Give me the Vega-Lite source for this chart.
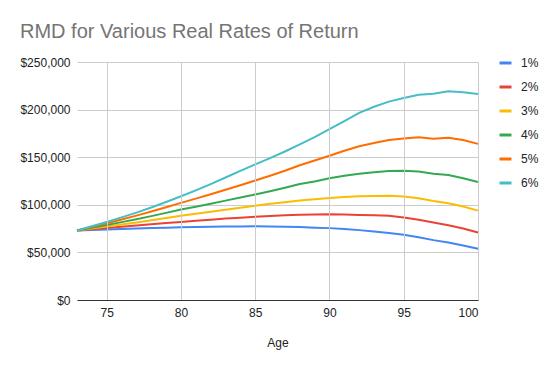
{
  "$schema": "https://vega.github.io/schema/vega-lite/v6.json",
  "width": 401,
  "height": 238,
  "autosize": {"type": "none"},
  "padding": {"left": 77, "top": 62, "right": 77, "bottom": 71},
  "background": "white",
  "config": {
    "font": "Liberation Sans",
    "view": {"stroke": null}
  },
  "title": {
    "text": "RMD for Various Real Rates of Return",
    "anchor": "start",
    "frame": "group",
    "dx": -57,
    "offset": 14,
    "fontSize": 20,
    "fontWeight": "normal",
    "font": "Liberation Sans",
    "color": "#757575"
  },
  "data": {
    "values": [
      {"age": 73, "1%": 73000, "2%": 73000, "3%": 73000, "4%": 73000, "5%": 73000, "6%": 73000},
      {"age": 74, "1%": 73500, "2%": 74300, "3%": 75100, "4%": 75900, "5%": 76800, "6%": 77500},
      {"age": 75, "1%": 74000, "2%": 75600, "3%": 77200, "4%": 78800, "5%": 80600, "6%": 82000},
      {"age": 76, "1%": 74500, "2%": 76900, "3%": 79300, "4%": 81800, "5%": 84500, "6%": 86800},
      {"age": 77, "1%": 75000, "2%": 78200, "3%": 81500, "4%": 84900, "5%": 88600, "6%": 91800},
      {"age": 78, "1%": 75500, "2%": 79500, "3%": 83800, "4%": 88100, "5%": 92900, "6%": 97200},
      {"age": 79, "1%": 75900, "2%": 80800, "3%": 86100, "4%": 91500, "5%": 97400, "6%": 103000},
      {"age": 80, "1%": 76300, "2%": 82000, "3%": 88500, "4%": 95000, "5%": 102000, "6%": 109000},
      {"age": 81, "1%": 76600, "2%": 83200, "3%": 90500, "4%": 98000, "5%": 106500, "6%": 115200},
      {"age": 82, "1%": 76900, "2%": 84400, "3%": 92600, "4%": 101200, "5%": 111000, "6%": 121800},
      {"age": 83, "1%": 77100, "2%": 85500, "3%": 94700, "4%": 104400, "5%": 115800, "6%": 128700},
      {"age": 84, "1%": 77300, "2%": 86500, "3%": 96800, "4%": 107600, "5%": 120600, "6%": 135700},
      {"age": 85, "1%": 77400, "2%": 87500, "3%": 99000, "4%": 110800, "5%": 125500, "6%": 142500},
      {"age": 86, "1%": 77300, "2%": 88300, "3%": 101000, "4%": 114300, "5%": 130500, "6%": 149000},
      {"age": 87, "1%": 77000, "2%": 89000, "3%": 102800, "4%": 118000, "5%": 135800, "6%": 156000},
      {"age": 88, "1%": 76600, "2%": 89600, "3%": 104500, "4%": 121900, "5%": 141500, "6%": 163500},
      {"age": 89, "1%": 76000, "2%": 89800, "3%": 105800, "4%": 124500, "5%": 146500, "6%": 171000},
      {"age": 90, "1%": 75500, "2%": 90100, "3%": 107100, "4%": 127800, "5%": 151500, "6%": 179400},
      {"age": 91, "1%": 74500, "2%": 89900, "3%": 108200, "4%": 130600, "5%": 156800, "6%": 188000},
      {"age": 92, "1%": 73400, "2%": 89300, "3%": 108900, "4%": 132700, "5%": 161500, "6%": 196500},
      {"age": 93, "1%": 72000, "2%": 88900, "3%": 109300, "4%": 134200, "5%": 165000, "6%": 203000},
      {"age": 94, "1%": 70400, "2%": 88500, "3%": 109600, "4%": 135500, "5%": 168000, "6%": 208400},
      {"age": 95, "1%": 68500, "2%": 86600, "3%": 108600, "4%": 135800, "5%": 169600, "6%": 212200},
      {"age": 96, "1%": 66000, "2%": 84200, "3%": 106800, "4%": 135000, "5%": 171000, "6%": 215700},
      {"age": 97, "1%": 62900, "2%": 81400, "3%": 104000, "4%": 132700, "5%": 169500, "6%": 216700},
      {"age": 98, "1%": 60400, "2%": 78600, "3%": 101700, "4%": 131400, "5%": 170300, "6%": 219200},
      {"age": 99, "1%": 57300, "2%": 75100, "3%": 98200, "4%": 127900, "5%": 168000, "6%": 218100},
      {"age": 100, "1%": 53800, "2%": 70900, "3%": 93900, "4%": 124000, "5%": 164000, "6%": 216400}
    ]
  },
  "transform": [
    {"fold": ["1%", "2%", "3%", "4%", "5%", "6%"], "as": ["rate", "rmd"]}
  ],
  "mark": {"type": "line", "strokeWidth": 2, "interpolate": "linear"},
  "encoding": {
    "x": {
      "field": "age",
      "type": "quantitative",
      "scale": {"domain": [73, 100], "nice": false, "zero": false},
      "axis": {
        "values": [75, 80, 85, 90, 95, 100],
        "title": "Age",
        "grid": true,
        "gridColor": "#cccccc",
        "domainColor": "#333333",
        "domainWidth": 1,
        "ticks": false,
        "labelPadding": 7,
        "labelFontSize": 12,
        "labelColor": "#222222",
        "labelFont": "Liberation Sans",
        "titleFont": "Liberation Sans",
        "titleFontSize": 12,
        "titleFontWeight": "normal",
        "titleColor": "#222222",
        "titlePadding": 19,
        "zindex": 1
      }
    },
    "y": {
      "field": "rmd",
      "type": "quantitative",
      "scale": {"domain": [0, 250000], "nice": false},
      "axis": {
        "values": [0, 50000, 100000, 150000, 200000, 250000],
        "format": "$,.0f",
        "title": null,
        "grid": true,
        "gridColor": "#cccccc",
        "domain": false,
        "ticks": false,
        "labelPadding": 7,
        "labelFontSize": 12,
        "labelColor": "#222222",
        "labelFont": "Liberation Sans"
      }
    },
    "color": {
      "field": "rate",
      "type": "nominal",
      "scale": {
        "domain": ["1%", "2%", "3%", "4%", "5%", "6%"],
        "range": ["#4285F4", "#EA4335", "#FBBC04", "#34A853", "#FF6D01", "#46BDC6"]
      },
      "legend": {
        "orient": "none",
        "legendX": 421,
        "legendY": -6.5,
        "title": null,
        "padding": 0,
        "symbolType": "stroke",
        "symbolStrokeWidth": 3,
        "symbolSize": 144,
        "labelFontSize": 12,
        "labelColor": "#222222",
        "labelFont": "Liberation Sans",
        "labelOffset": 8,
        "rowPadding": 10
      }
    }
  }
}
